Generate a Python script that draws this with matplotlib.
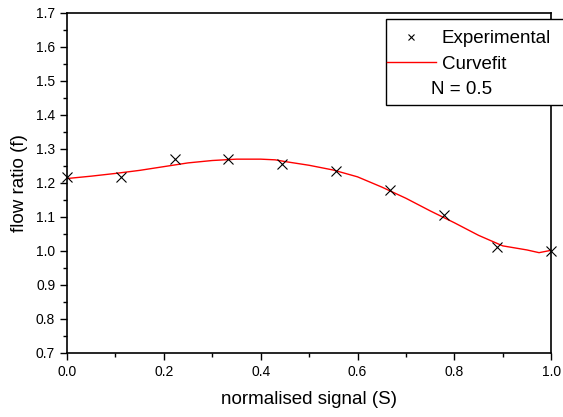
import numpy as np
import matplotlib.pyplot as plt
from matplotlib.lines import Line2D
from matplotlib.patches import Rectangle
from matplotlib.ticker import MultipleLocator

plt.rcParams['font.family'] = ['Liberation Sans', 'DejaVu Sans']

# experimental points
s_exp = [0.0, 1/9, 2/9, 3/9, 4/9, 5/9, 6/9, 7/9, 8/9, 1.0]
f_exp = [1.218, 1.218, 1.271, 1.270, 1.256, 1.236, 1.178, 1.107, 1.012, 1.000]

# curve fit
s_fit = [0.0, 0.05, 0.1, 0.15, 0.2, 0.25, 0.3, 0.35, 0.4, 0.43, 0.45, 0.5,
         0.55, 0.6, 0.65, 0.7, 0.75, 0.8, 0.85, 0.9, 0.95, 0.975, 1.0]
f_fit = [1.213, 1.220, 1.228, 1.237, 1.248, 1.259, 1.266, 1.270, 1.270, 1.268,
         1.263, 1.252, 1.238, 1.218, 1.188, 1.155, 1.118, 1.083, 1.046, 1.015,
         1.003, 0.995, 1.002]

fig = plt.figure(figsize=(5.63, 4.17), dpi=100)
ax = fig.add_axes([0.119, 0.1535, 0.860, 0.8155])

ax.plot(s_fit, f_fit, color='red', lw=1.0, label='Curvefit')
ax.plot(s_exp, f_exp, ls='none', marker='x', color='black', ms=7, mew=0.8,
        clip_on=False, zorder=3, label='Experimental')

ax.set_xlim(0, 1.0)
ax.set_ylim(0.7, 1.7)
ax.xaxis.set_major_locator(MultipleLocator(0.2))
ax.xaxis.set_minor_locator(MultipleLocator(0.1))
ax.yaxis.set_major_locator(MultipleLocator(0.1))
ax.yaxis.set_minor_locator(MultipleLocator(0.05))
ax.xaxis.set_major_formatter(lambda v, p: f'{v:.1f}')
ax.yaxis.set_major_formatter(lambda v, p: f'{v:.1f}')
ax.tick_params(which='both', direction='out', top=False, right=False, width=1.0,
               labelsize=10)
ax.tick_params(which='major', length=5)
ax.tick_params(which='minor', length=3)
for sp in ax.spines.values():
    sp.set_linewidth(1.2)

ax.set_xlabel('normalised signal (S)', fontsize=13.5, labelpad=9)
ax.set_ylabel('flow ratio (f)', fontsize=13.5, labelpad=6)

# legend box (runs off the right edge like the original)
ax.add_patch(Rectangle((386/563, 1 - 105/417), 220/563, 86/417,
                       transform=fig.transFigure, facecolor='white',
                       edgecolor='black', lw=1.0, zorder=4, clip_on=False))

handles = [Line2D([], [], ls='none', marker='x', color='black', ms=5, mew=0.8),
           Line2D([], [], color='red', lw=1.0),
           Line2D([], [], ls='none')]
labels = ['Experimental', 'Curvefit', 'N = 0.5']
leg = ax.legend(handles, labels, loc='upper left',
                bbox_to_anchor=(387/563, 1 - 30/417), bbox_transform=fig.transFigure,
                fontsize=13.5, frameon=False, handlelength=2.6, handletextpad=0.32,
                borderpad=0, labelspacing=0.45, borderaxespad=0)
leg.set_zorder(5)
leg.get_texts()[2].set_x(-11)

fig.savefig('out.png', dpi=100)
